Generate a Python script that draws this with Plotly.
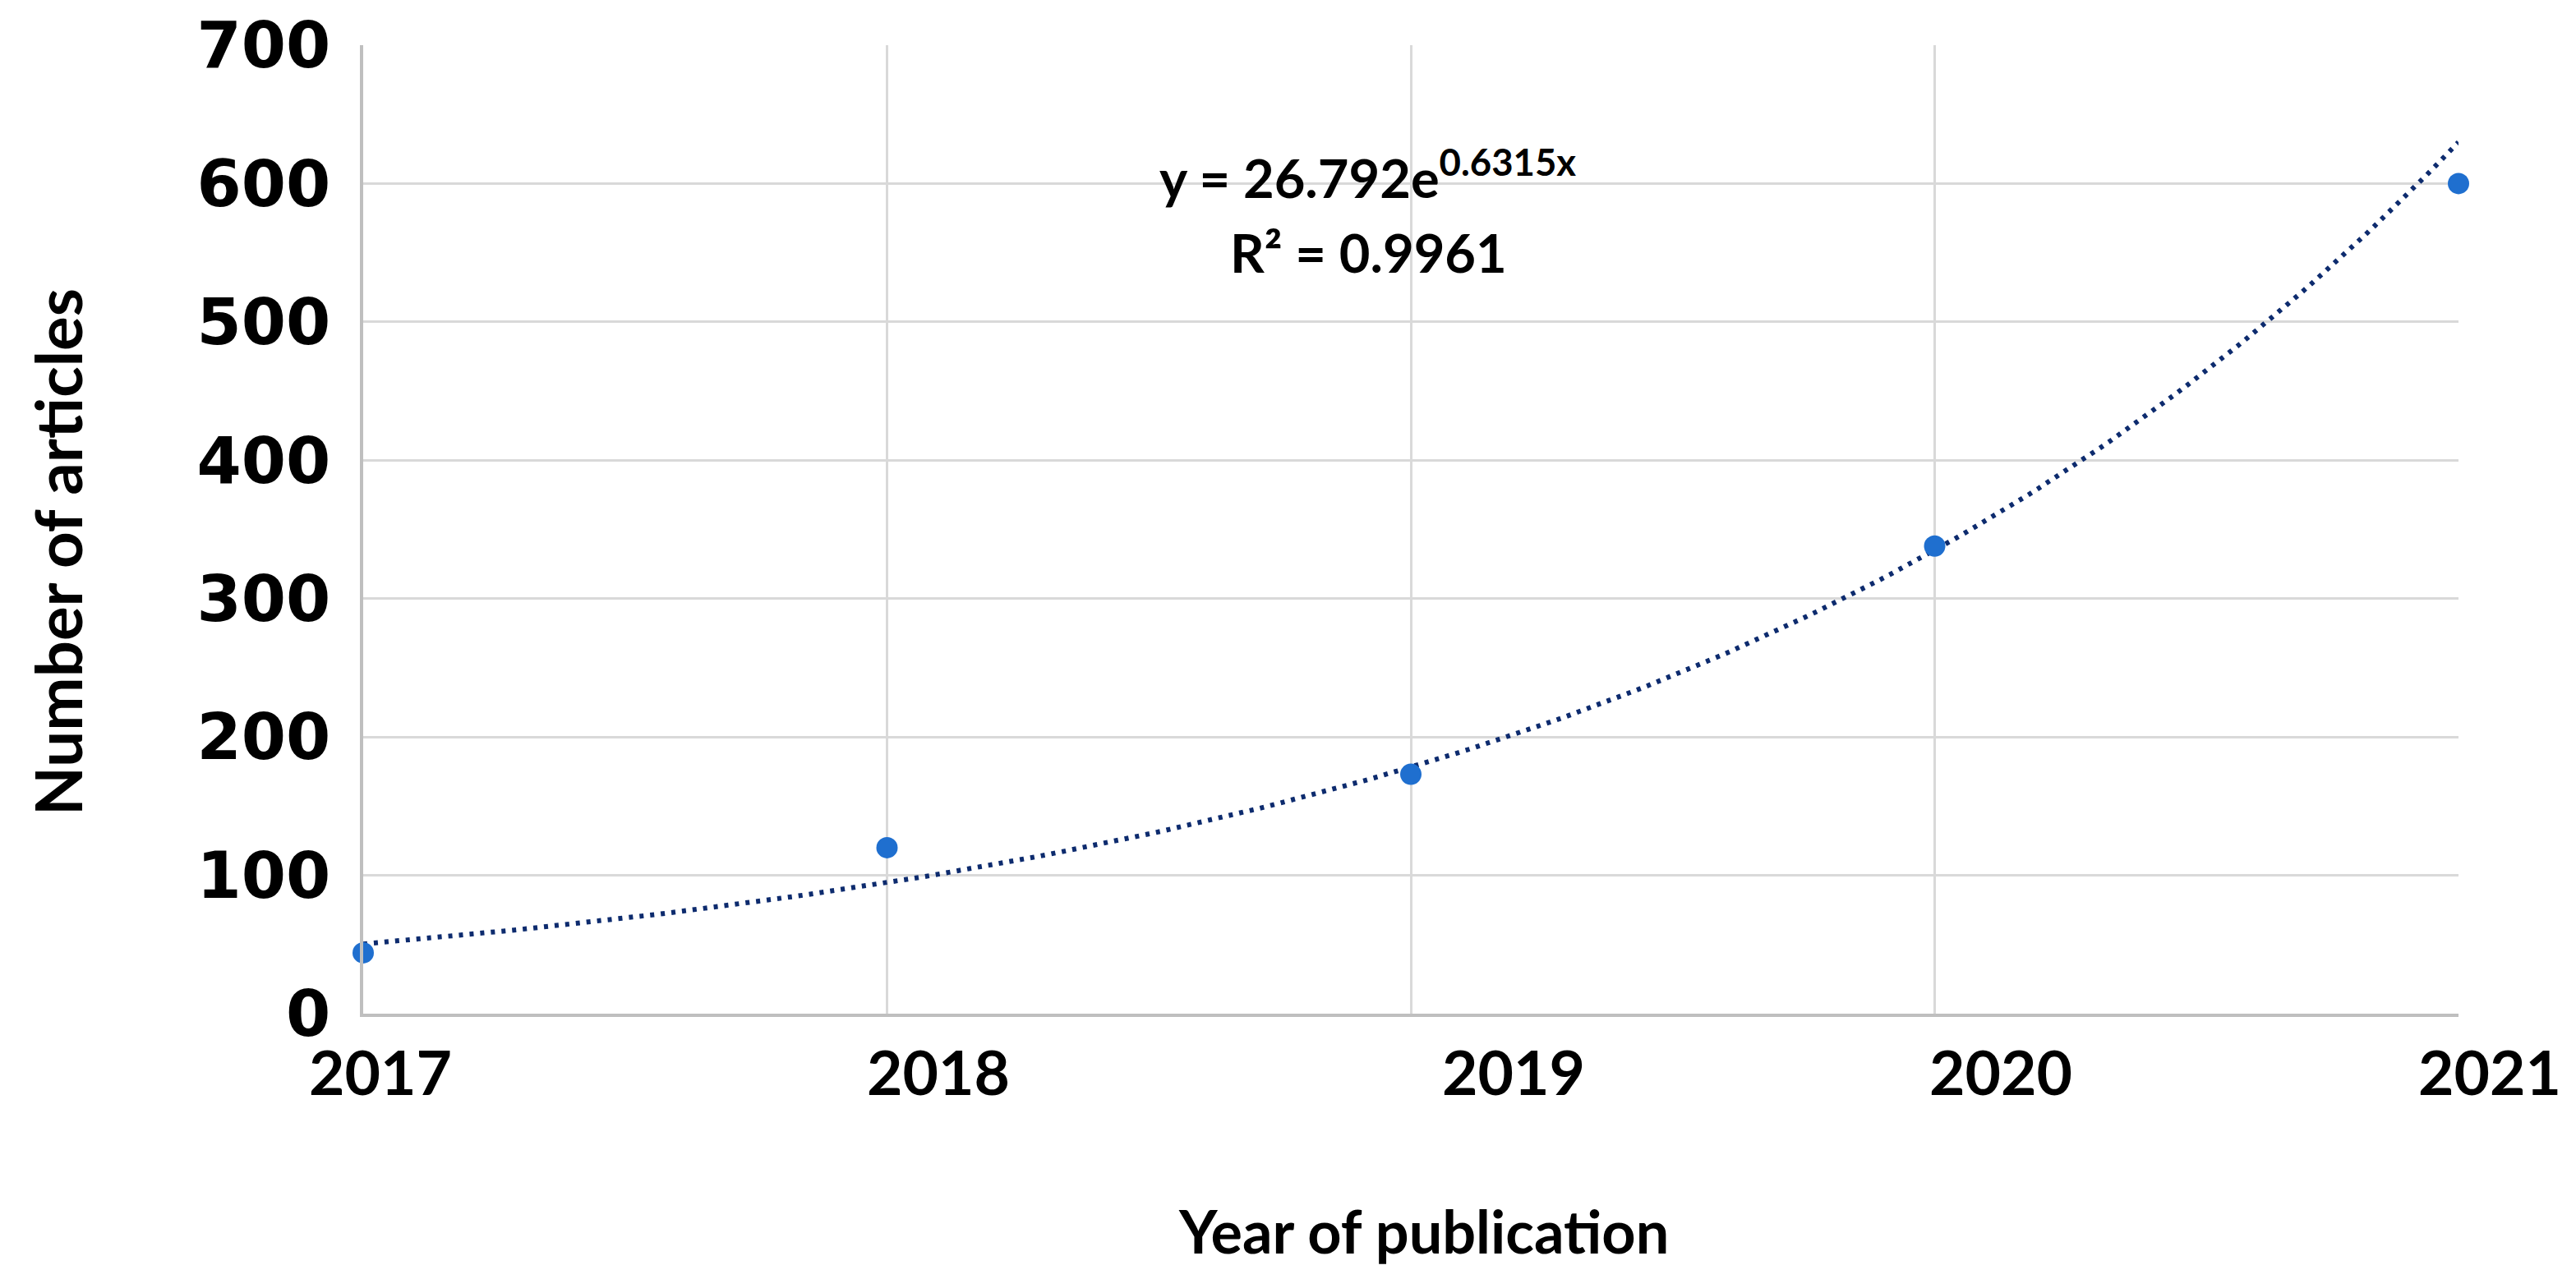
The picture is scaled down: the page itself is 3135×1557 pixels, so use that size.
import numpy as np
import plotly.graph_objects as go

# ---- data ----
years = [2017, 2018, 2019, 2020, 2021]
year_labels = ["2017", "2018", "2019", "2020", "2021"]
articles = [44, 120, 173, 338, 600]
y_ticks = [0, 100, 200, 300, 400, 500, 600, 700]
trend_a = 26.792
trend_b = 0.6315
r_squared = 0.9961

# trendline as given by the chart's own equation (x = 1..5 for 2017..2021)
tx = np.linspace(1, 5, 200)
trend_years = years[0] - 1 + tx
trend_vals = trend_a * np.exp(trend_b * tx)

# ---- style ----
W, H = 3135, 1557
ML, MR, MT, MB = 434, 151, 47, 331
label_xshift = [21, 62, 125, 80, 38]
TITLE_FONT = "Lato"
TICK_FONT = "DejaVu Sans"
GRID = "#D9D9D9"
AXIS = "#BFBFBF"

fig = go.Figure()
fig.add_trace(go.Scatter(
    x=trend_years, y=trend_vals, mode="lines",
    line=dict(color="#0D2B6E", width=6, dash="5px,8px"),
    hoverinfo="skip", showlegend=False, cliponaxis=False))
fig.add_trace(go.Scatter(
    x=years, y=articles, mode="markers",
    marker=dict(color="#1F6FCF", size=26),
    showlegend=False, cliponaxis=False))

plot_h = H - MT - MB
plot_w = W - ML - MR

def py(p):
    return (H - MB - p) / plot_h

def px(p):
    return (p - ML) / plot_w

# x tick labels
for yr, lab, dx in zip(years, year_labels, label_xshift):
    fig.add_annotation(x=yr, xref="x", y=py(1296), yref="paper",
                       text="<b>%s</b>" % lab, showarrow=False, xshift=dx,
                       xanchor="center", yanchor="middle",
                       font=dict(family=TITLE_FONT, size=75, color="black"))

# axis titles
fig.add_annotation(x=px(1724), xref="paper", y=py(1490), yref="paper",
                   text="<b>Year of publication</b>", showarrow=False,
                   xanchor="center", yanchor="middle",
                   font=dict(family=TITLE_FONT, size=72, color="black"))
fig.add_annotation(x=px(62), xref="paper", y=py(664), yref="paper",
                   text="<b>Number of articles</b>", showarrow=False,
                   textangle=-90, xanchor="center", yanchor="middle",
                   font=dict(family=TITLE_FONT, size=78, color="black"))

# equation
fig.add_annotation(x=px(1656), xref="paper", y=py(204), yref="paper",
                   text="<b>y = %se<sup>%sx</sup></b>" % (trend_a, trend_b),
                   showarrow=False, xanchor="center", yanchor="middle",
                   font=dict(family=TITLE_FONT, size=65, color="black"))
fig.add_annotation(x=px(1657), xref="paper", y=py(299), yref="paper",
                   text="<b>R² = %s</b>" % r_squared,
                   showarrow=False, xanchor="center", yanchor="middle",
                   font=dict(family=TITLE_FONT, size=65, color="black"))

fig.update_layout(
    width=W, height=H,
    margin=dict(l=ML, r=MR, t=MT, b=MB, pad=0, autoexpand=False),
    paper_bgcolor="white", plot_bgcolor="white",
    xaxis=dict(range=[2017, 2021], tickvals=years, showticklabels=False,
               showgrid=True, gridcolor=GRID, gridwidth=3,
               showline=True, linecolor=AXIS, linewidth=4,
               zeroline=False, ticks="", fixedrange=True, automargin=False),
    yaxis=dict(range=[0, 700], tickvals=y_ticks, showgrid=True,
               gridcolor=GRID, gridwidth=3, showline=True, linecolor=AXIS,
               linewidth=4, zeroline=False, ticks="", automargin=False,
               ticklabelstandoff=20,
               tickfont=dict(family=TICK_FONT, size=78, color="black",
                             weight="bold")),
)
fig.write_html("out.html")
